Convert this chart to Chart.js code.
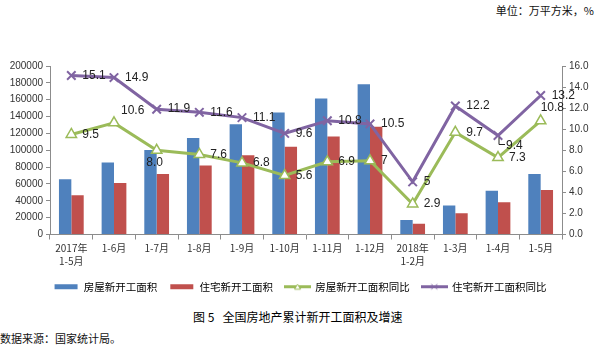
<!DOCTYPE html>
<html>
<head>
<meta charset="utf-8">
<script src="https://cdn.jsdelivr.net/npm/chart.js@4/dist/chart.umd.min.js"></script>
<style>
  body { margin: 0; background: #fff; width: 600px; height: 347px; overflow: hidden; position: relative;
         font-family: "Noto Sans CJK SC", "Liberation Sans", sans-serif; color: #111; }
  #wrap { position: absolute; left: 0; top: 0; width: 600px; height: 302px; }
  #unit { position: absolute; right: 6px; top: 2px; font-size: 11px; line-height: 16px; }
  #title { position: absolute; left: 193px; top: 309px; font-size: 12px; line-height: 16px; color: #000; }
  #source { position: absolute; left: 0px; top: 330px; font-size: 11px; line-height: 16px; }
</style>
</head>
<body>
<div id="unit">单位：万平方米，%</div>
<div id="wrap"><canvas id="chart_area"></canvas></div>
<div id="title">图 5&nbsp;&nbsp;&nbsp;全国房地产累计新开工面积及增速</div>
<div id="source">数据来源：国家统计局。</div>
<script>
//categories (months)
var months = [['2017年', '1-5月'], '1-6月', '1-7月', '1-8月', '1-9月', '1-10月', '1-11月', '1-12月',
              ['2018年', '1-2月'], '1-3月', '1-4月', '1-5月'];

//new construction area, 10k m2
var houseArea = [65500, 85400, 100200, 114600, 130900, 144900, 161300, 178400, 17100, 34400, 51900, 71900];
var residArea = [46700, 61100, 71900, 81800, 94200, 104200, 116200, 127800, 12800, 25100, 38300, 52700];

//year on year growth, % (kept as text so labels show like the original)
var houseGrowth = ['9.5', '10.6', '8.0', '7.6', '6.8', '5.6', '6.9', '7', '2.9', '9.7', '7.3', '10.8'];
var residGrowth = ['15.1', '14.9', '11.9', '11.6', '11.1', '9.6', '10.8', '10.5', '5', '12.2', '9.4', '13.2'];

//where each value label sits next to its point
var houseLabelPos = ['r', 'ur', 'd', 'r', 'r', 'r', 'r', 'r', 'r', 'r', 'r', 'u'];
var residLabelPos = ['r', 'r', 'r', 'r', 'r', 'r', 'r', 'r', 'r', 'r', 'dr', 'r'];

var seriesNames = ['房屋新开工面积', '住宅新开工面积', '房屋新开工面积同比', '住宅新开工面积同比'];

var BLUE = '#4F81BD', RED = '#C0504D', GREEN = '#9BBB59', PURPLE = '#8064A2';
var numFont = '"Liberation Sans", Arial, sans-serif';

//small pictures for the legend
function swatch(color, kind) {
    var c = document.createElement('canvas');
    c.width = 27; c.height = 9;
    var g = c.getContext('2d');
    if (kind === 'bar') {
        g.fillStyle = color;
        g.fillRect(2, 2, 23, 5);
    } else {
        g.strokeStyle = color;
        g.lineWidth = 3;
        g.beginPath(); g.moveTo(0, 4.5); g.lineTo(27, 4.5); g.stroke();
        g.lineWidth = 1;
        if (kind === 'tri') {
            g.fillStyle = '#fff';
            g.beginPath(); g.moveTo(13.5, 2); g.lineTo(16.5, 7); g.lineTo(10.5, 7); g.closePath();
            g.fill(); g.stroke();
        } else {
            g.beginPath(); g.moveTo(10.5, 2); g.lineTo(16.5, 7); g.moveTo(16.5, 2); g.lineTo(10.5, 7); g.stroke();
        }
    }
    return c;
}
var swatches = [swatch(BLUE, 'bar'), swatch(RED, 'bar'), swatch(GREEN, 'tri'), swatch(PURPLE, 'x')];

//plugin drawing the value labels of the two lines
var offsets = { r: [11, 0, 'left'], ur: [7, -12, 'left'], d: [-2, 12, 'center'], u: [0, -13, 'left'], dr: [8, 10, 'left'] };
var lineLabels = {
    id: 'lineLabels',
    afterDatasetsDraw: function(chart) {
        var ctx = chart.ctx;
        ctx.save();
        ctx.font = '12px ' + numFont;
        ctx.fillStyle = '#222';
        ctx.textBaseline = 'middle';
        [[2, houseLabelPos], [3, residLabelPos]].forEach(function(p) {
            var meta = chart.getDatasetMeta(p[0]);
            var ds = chart.data.datasets[p[0]];
            meta.data.forEach(function(pt, i) {
                var o = offsets[p[1][i]];
                ctx.textAlign = o[2];
                ctx.fillText(ds.data[i], pt.x + o[0], pt.y + o[1]);
                if (p[1][i] === 'dr') {
                    //little leader line like the original
                    ctx.strokeStyle = '#222';
                    ctx.lineWidth = 1;
                    ctx.beginPath();
                    ctx.moveTo(pt.x + 1, pt.y + 2); ctx.lineTo(pt.x + 1, pt.y + 9); ctx.lineTo(pt.x + 7, pt.y + 9);
                    ctx.stroke();
                }
            });
        });
        ctx.restore();
    }
};

var ctxArea = document.getElementById('chart_area').getContext('2d');
var ChartArea = new Chart(ctxArea, {
    type: 'bar',
    data: {
        labels: months,
        datasets: [{
            label: seriesNames[0],
            data: houseArea,
            backgroundColor: BLUE,
            yAxisID: 'y',
            order: 2
        }, {
            label: seriesNames[1],
            data: residArea,
            backgroundColor: RED,
            yAxisID: 'y',
            order: 2
        }, {
            type: 'line',
            label: seriesNames[2],
            data: houseGrowth,
            borderColor: GREEN,
            borderWidth: 3,
            pointStyle: 'triangle',
            pointRadius: 6,
            pointBorderWidth: 1.5,
            pointBackgroundColor: '#fff',
            pointBorderColor: GREEN,
            yAxisID: 'y1',
            order: 1
        }, {
            type: 'line',
            label: seriesNames[3],
            data: residGrowth,
            borderColor: PURPLE,
            borderWidth: 3,
            pointStyle: 'crossRot',
            pointRadius: 6,
            pointBorderWidth: 2,
            pointBorderColor: PURPLE,
            yAxisID: 'y1',
            order: 0
        }]
    },
    options: {
        responsive: true,
        maintainAspectRatio: false,
        animation: false,
        layout: { padding: { top: 66, left: 0, right: 0, bottom: 0 } },
        datasets: { bar: { categoryPercentage: 0.58, barPercentage: 1.0 } },
        plugins: {
            tooltip: { enabled: false },
            legend: {
                position: 'bottom',
                align: 'center',
                labels: {
                    usePointStyle: true,
                    pointStyleWidth: 25,
                    padding: 12,
                    color: '#333',
                    font: { size: 10.5, family: '"Noto Sans CJK SC", sans-serif' },
                    generateLabels: function(chart) {
                        return seriesNames.map(function(n, i) {
                            return { text: n, pointStyle: swatches[i], datasetIndex: i, hidden: false,
                                     fillStyle: 'rgba(0,0,0,0)', strokeStyle: 'rgba(0,0,0,0)', lineWidth: 0 };
                        });
                    }
                }
            }
        },
        scales: {
            x: {
                grid: { drawOnChartArea: false, offset: true, tickLength: 5, color: '#8c8c8c' },
                border: { color: '#8c8c8c' },
                ticks: { color: '#333', padding: 2, maxRotation: 0, autoSkip: false,
                         font: { size: 10, family: '"Noto Sans CJK SC", sans-serif', lineHeight: 1.3 } },
                afterFit: function(s) { s.height = 35; }
            },
            y: {
                position: 'left',
                min: 0, max: 200000,
                grid: { drawOnChartArea: false, tickLength: 4, color: '#8c8c8c' },
                border: { color: '#8c8c8c' },
                ticks: { stepSize: 20000, color: '#333', padding: 3, font: { size: 10, family: numFont },
                         callback: function(v) { return String(v); } },
                afterFit: function(s) { s.width = 50; }
            },
            y1: {
                position: 'right',
                min: 0, max: 16,
                grid: { drawOnChartArea: false, tickLength: 4, color: '#8c8c8c' },
                border: { color: '#8c8c8c' },
                ticks: { stepSize: 2, color: '#333', padding: 3, font: { size: 10, family: numFont },
                         callback: function(v) { return v.toFixed(1); } },
                afterFit: function(s) { s.width = 38; }
            }
        }
    },
    plugins: [lineLabels]
});
</script>
</body>
</html>
